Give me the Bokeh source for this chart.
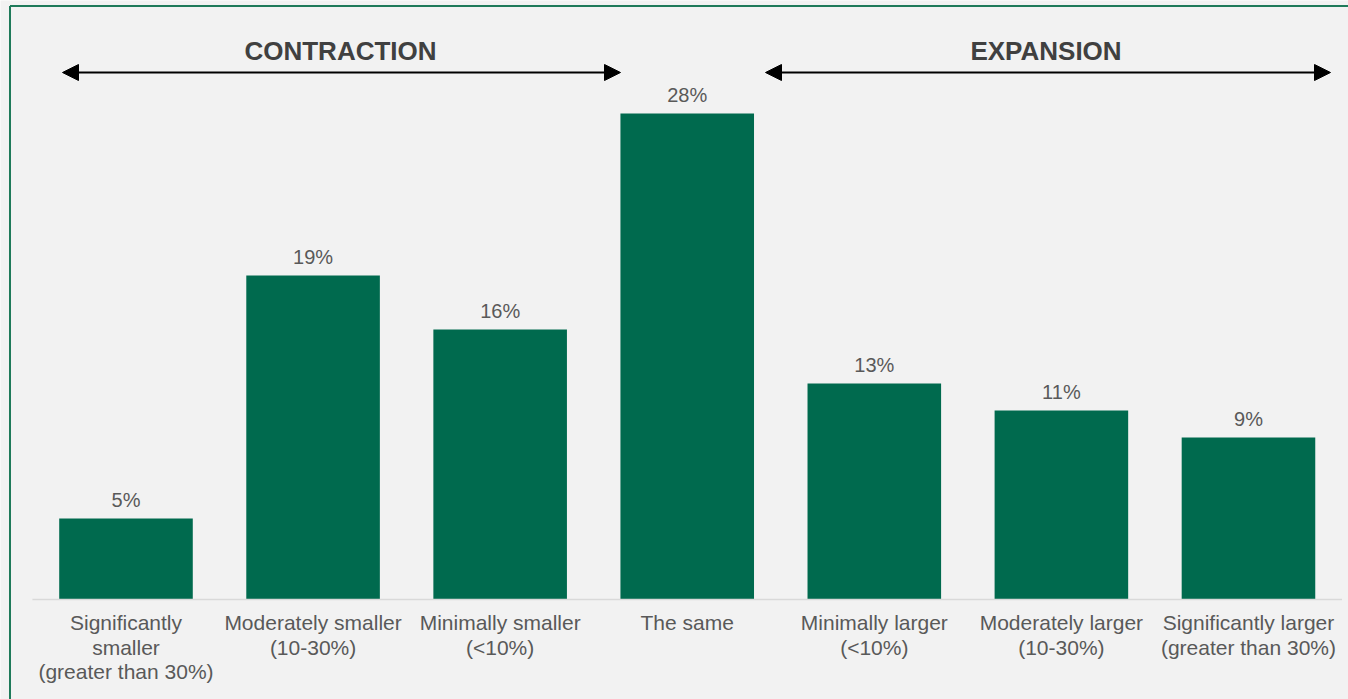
from bokeh.plotting import figure
from bokeh.models import Range1d, Arrow, NormalHead, ColumnDataSource
from bokeh.core.properties import value
from bokeh.embed import file_html
from bokeh.resources import INLINE

categories = [
    "Significantly\nsmaller\n(greater than 30%)",
    "Moderately smaller\n(10-30%)",
    "Minimally smaller\n(<10%)",
    "The same",
    "Minimally larger\n(<10%)",
    "Moderately larger\n(10-30%)",
    "Significantly larger\n(greater than 30%)",
]
shares = [4.69, 18.75, 15.63, 28.13, 12.50, 10.94, 9.38]
share_labels = ["5%", "19%", "16%", "28%", "13%", "11%", "9%"]
group_titles = ["CONTRACTION", "EXPANSION"]

BAR = "#006a4e"
GREEN_BORDER = "#1f7a5a"
TEXT = "#595959"
HEAD = "#404040"
BG = "#f2f2f2"
FONT = value("Liberation Sans")

xs = list(range(len(categories)))
src = ColumnDataSource(dict(x=xs, top=shares, lab=share_labels, cat=categories,
                            zero=[0] * len(xs)))

p = figure(width=1348, height=699, output_backend="svg", toolbar_location=None,
           x_range=Range1d(-0.6708, 6.5347), y_range=Range1d(-5.787, 34.664),
           min_border=0, min_border_left=0, min_border_right=0,
           min_border_top=0, min_border_bottom=0)
p.extra_x_ranges = {"px": Range1d(0, 1348)}
p.extra_y_ranges = {"px": Range1d(699, 0)}
p.xaxis.visible = False
p.yaxis.visible = False
p.grid.visible = False
p.outline_line_color = None
p.background_fill_color = BG
p.border_fill_color = BG

# frame border (decoration)
p.segment(x0=[9.5, 9.5], y0=[5.5, 5.5], x1=[9.5, 1348], y1=[699, 5.5],
          x_range_name="px", y_range_name="px", line_color=GREEN_BORDER, line_width=2)

# bars
p.vbar(x="x", top="top", bottom=0, width=0.714, source=src, fill_color=BAR, line_color=None)

# baseline
p.segment(x0=[-0.5], y0=[0], x1=[6.5], y1=[0], line_color="#d9d9d9", line_width=1.5)

# value labels
p.text(x="x", y="top", text="lab", source=src, text_align="center",
       text_baseline="alphabetic", y_offset=-18, text_font=FONT,
       text_font_size="20px", text_color=TEXT)

# category labels
p.text(x="x", y="zero", text="cat", source=src, text_align="center",
       text_baseline="top", y_offset=12, text_font=FONT, text_font_size="21px",
       text_line_height=1.05, text_color=TEXT)

# group titles
p.text(x=[340, 1045.5], y=[50, 50], text=group_titles, x_range_name="px", y_range_name="px",
       text_align="center", text_baseline="middle", text_font=FONT,
       text_font_style="bold", text_font_size="26px", text_color=HEAD)

# arrows
for xa, xb in [(62, 620), (765, 1330)]:
    p.add_layout(Arrow(x_start=xa, y_start=72, x_end=xb, y_end=72,
                       x_range_name="px", y_range_name="px",
                       line_color="black", line_width=2,
                       start=NormalHead(size=16, fill_color="black", line_color="black"),
                       end=NormalHead(size=16, fill_color="black", line_color="black")))

open("out.html", "w").write(file_html(p, INLINE))
